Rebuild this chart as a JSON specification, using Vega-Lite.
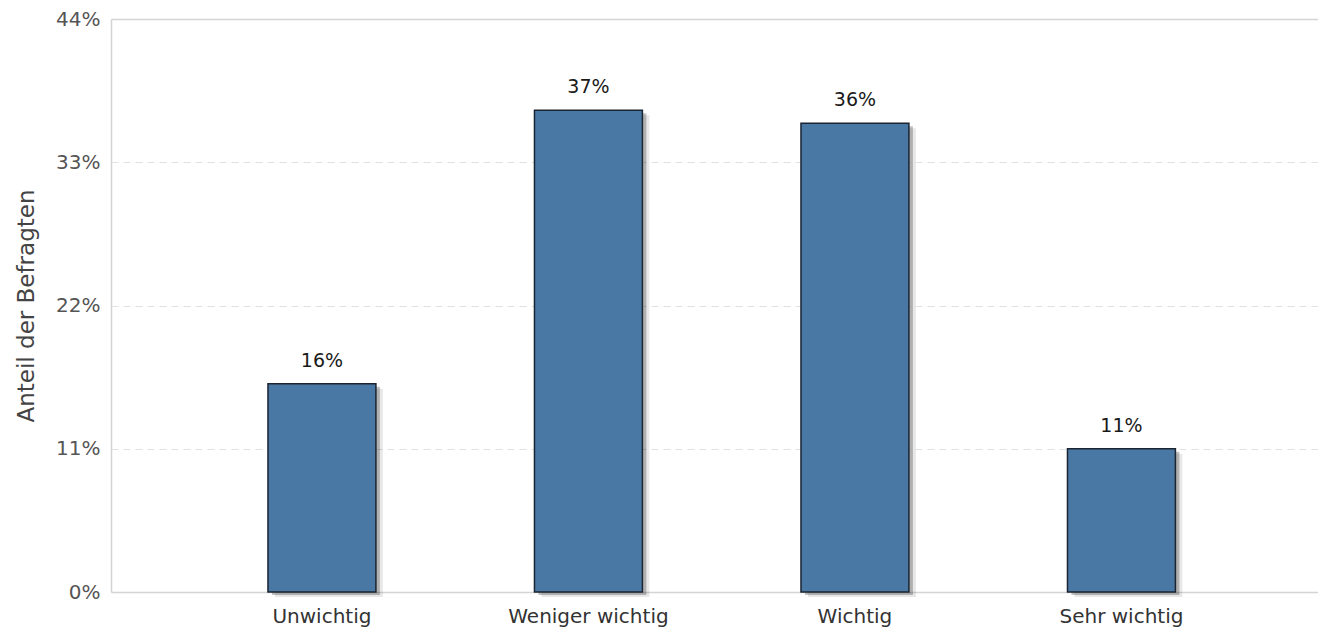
{
  "$schema": "https://vega.github.io/schema/vega-lite/v6.json",
  "width": 1207,
  "height": 573,
  "autosize": {"type": "none"},
  "padding": {"left": 111, "top": 19, "right": 0, "bottom": 38},
  "background": "white",
  "config": {
    "view": {"stroke": null},
    "font": "DejaVu Sans"
  },
  "data": {
    "values": [
      {"Kategorie": "Unwichtig", "Anteil": 0.16},
      {"Kategorie": "Weniger wichtig", "Anteil": 0.37},
      {"Kategorie": "Wichtig", "Anteil": 0.36},
      {"Kategorie": "Sehr wichtig", "Anteil": 0.11}
    ]
  },
  "encoding": {
    "x": {
      "field": "Kategorie",
      "type": "nominal",
      "sort": null,
      "scale": {"paddingInner": 0.595, "paddingOuter": 0.562, "align": 0.524},
      "axis": {
        "title": null,
        "labelAngle": 0,
        "labelFont": "DejaVu Sans",
        "labelFontSize": 20,
        "labelColor": "#333333",
        "labelPadding": 14,
        "ticks": false,
        "domainColor": "#d4d4d4",
        "domainWidth": 1.5,
        "grid": false
      }
    },
    "y": {
      "field": "Anteil",
      "type": "quantitative",
      "scale": {"domain": [0, 0.44], "nice": false},
      "axis": {
        "title": "Anteil der Befragten",
        "titleFont": "DejaVu Sans",
        "titleFontSize": 23,
        "titleFontWeight": "normal",
        "titleColor": "#444444",
        "titlePadding": 17,
        "values": [0, 0.11, 0.22, 0.33, 0.44],
        "format": ".0%",
        "labelFont": "DejaVu Sans",
        "labelFontSize": 20,
        "labelColor": "#555555",
        "labelPadding": 11,
        "ticks": false,
        "domainColor": "#d4d4d4",
        "domainWidth": 1.5,
        "grid": true,
        "gridColor": {"condition": {"test": "datum.value >= 0.44", "value": "#d4d4d4"}, "value": "#e2e2e2"},
        "gridWidth": {"condition": {"test": "datum.value >= 0.44", "value": 1.5}, "value": 1},
        "gridDash": {"condition": {"test": "datum.value >= 0.44", "value": []}, "value": [7, 5]}
      }
    }
  },
  "layer": [
    {
      "mark": {"type": "bar", "xOffset": 7, "yOffset": 5, "fill": "#000000", "opacity": 0.09}
    },
    {
      "mark": {"type": "bar", "xOffset": 4, "yOffset": 3, "fill": "#000000", "opacity": 0.24}
    },
    {
      "mark": {"type": "bar", "fill": "#4a78a4", "stroke": "#1b2431", "strokeWidth": 1.5}
    },
    {
      "mark": {"type": "text", "dy": -13, "baseline": "bottom", "font": "DejaVu Sans", "fontSize": 19, "color": "#1a1a1a"},
      "encoding": {
        "text": {"field": "Anteil", "type": "quantitative", "format": ".0%"}
      }
    }
  ]
}
